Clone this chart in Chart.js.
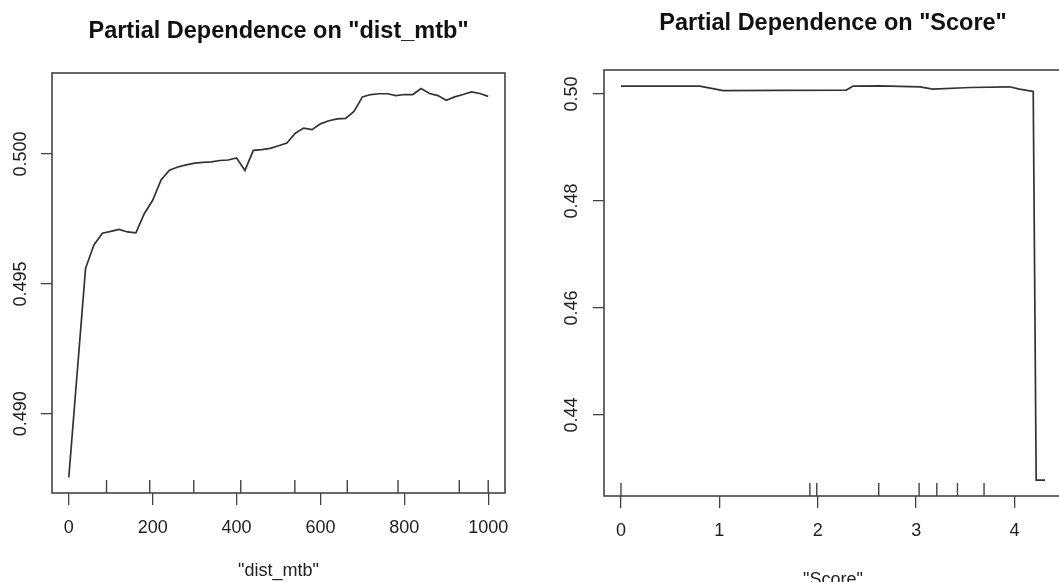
<!DOCTYPE html>
<html>
<head>
<meta charset="utf-8">
<script src="https://cdn.jsdelivr.net/npm/chart.js@4.4.1/dist/chart.umd.min.js"></script>
<style>
  html, body { margin: 0; padding: 0; background: #fff; overflow: hidden; width: 1059px; height: 582px; }
  #pdDist { position: absolute; left: 0; top: 0; }
  #pdScore { position: absolute; left: 530px; top: 0; }
</style>
</head>
<body>
<canvas id="pdDist" width="530" height="582"></canvas>
<canvas id="pdScore" width="560" height="600"></canvas>
<script>
// partial dependence on dist_mtb
const distX = [0, 40, 60, 80, 100, 120, 140, 160, 180, 200, 220, 240, 260, 280, 300, 320, 340, 360, 380, 400,
  420, 440, 460, 480, 500, 520, 540, 560, 580, 600, 620, 640, 660, 680, 700, 720, 740, 760, 780, 800,
  820, 840, 860, 880, 900, 920, 940, 960, 980, 1000];
const distPd = [0.48755, 0.49560, 0.49650, 0.49695, 0.49702, 0.49710, 0.49700, 0.49697, 0.49770, 0.49822,
  0.49900, 0.49938, 0.49950, 0.49958, 0.49965, 0.49968, 0.49970, 0.49975, 0.49977, 0.49985,
  0.49937, 0.50014, 0.50017, 0.50022, 0.50032, 0.50042, 0.50080, 0.50100, 0.50094, 0.50116,
  0.50128, 0.50135, 0.50137, 0.50164, 0.50220, 0.50229, 0.50232, 0.50232, 0.50225, 0.50229,
  0.50229, 0.50252, 0.50233, 0.50225, 0.50207, 0.50220, 0.50229, 0.50239, 0.50233, 0.50222];
const distRug = [90, 193, 298, 410, 539, 664, 785, 931, 1000];
const distXTicks = [0, 200, 400, 600, 800, 1000];
const distYTicks = [0.490, 0.495, 0.500];

// partial dependence on Score
const scoreX = [0, 0.80, 1.04, 1.60, 2.29, 2.36, 2.63, 3.04, 3.17, 3.55, 3.95, 4.05, 4.19, 4.22, 4.31];
const scorePd = [0.50150, 0.50150, 0.50065, 0.50068, 0.50075, 0.50149, 0.50155, 0.50136, 0.50093, 0.50123,
  0.50136, 0.50093, 0.50049, 0.42780, 0.42780];
const scoreRug = [0, 1.92, 1.99, 2.62, 3.03, 3.21, 3.42, 3.69];
const scoreXTicks = [0, 1, 2, 3, 4];
const scoreYTicks = [0.44, 0.46, 0.48, 0.50];

const FONT = 'Liberation Sans, Arial, Helvetica, sans-serif';
const INK = '#222';
const AXIS = '#444';

// R style: axis range = data range + 4% each side
function rRange(vals) {
  const lo = Math.min(...vals), hi = Math.max(...vals);
  const pad = (hi - lo) * 0.04;
  return { min: lo - pad, max: hi + pad };
}

const boxPlugin = {
  id: 'box',
  afterDraw(chart) {
    const { ctx, chartArea: a } = chart;
    ctx.save();
    ctx.strokeStyle = AXIS;
    ctx.lineWidth = 1.6;
    ctx.strokeRect(a.left, a.top, a.right - a.left, a.bottom - a.top);
    ctx.restore();
  }
};

const rugPlugin = {
  id: 'rug',
  afterDatasetsDraw(chart, args, opts) {
    const { ctx, chartArea: a, scales: { x } } = chart;
    ctx.save();
    ctx.strokeStyle = AXIS;
    ctx.lineWidth = 1.4;
    ctx.beginPath();
    opts.values.forEach(v => {
      const px = x.getPixelForValue(v);
      ctx.moveTo(px, a.bottom);
      ctx.lineTo(px, a.bottom - 13);
    });
    ctx.stroke();
    ctx.restore();
  }
};

const mainTitlePlugin = {
  id: 'mainTitle',
  afterDraw(chart, args, opts) {
    const { ctx, chartArea: a } = chart;
    ctx.save();
    ctx.fillStyle = '#111';
    ctx.font = 'bold 23.5px ' + FONT;
    ctx.textAlign = 'center';
    ctx.textBaseline = 'middle';
    ctx.fillText(opts.text, (a.left + a.right) / 2, opts.y);
    ctx.restore();
  }
};

function pdChart(id, p) {
  const xr = rRange(p.xs);
  const yr = rRange(p.ys);
  const tickGrid = len => ({ drawOnChartArea: false, drawTicks: true, tickLength: len, color: AXIS, lineWidth: 1.3 });
  return new Chart(document.getElementById(id), {
    type: 'line',
    data: {
      datasets: [{
        data: p.xs.map((x, i) => ({ x: x, y: p.ys[i] })),
        borderColor: '#333',
        borderWidth: 1.7,
        pointRadius: 0,
        tension: 0,
        fill: false
      }]
    },
    options: {
      responsive: false,
      animation: false,
      devicePixelRatio: 1,
      layout: { padding: p.padding },
      plugins: {
        legend: { display: false },
        tooltip: { enabled: false },
        rug: { values: p.rug },
        mainTitle: { text: p.title, y: p.titleY }
      },
      scales: {
        x: {
          type: 'linear',
          min: xr.min,
          max: xr.max,
          afterBuildTicks: s => { s.ticks = p.xTicks.map(v => ({ value: v })); },
          afterFit: s => { s.height = p.xAxisHeight; },
          grid: tickGrid(12),
          border: { display: false },
          ticks: {
            autoSkip: false, maxRotation: 0, padding: 12, color: INK,
            font: { family: FONT, size: 18 },
            callback: v => String(v)
          },
          title: {
            display: true, text: p.xTitle, color: INK,
            font: { family: FONT, size: 18 },
            padding: { top: 0, bottom: p.xTitlePad }
          }
        },
        y: {
          type: 'linear',
          min: yr.min,
          max: yr.max,
          afterBuildTicks: s => { s.ticks = p.yTicks.map(v => ({ value: v })); },
          afterFit: s => { s.width = p.yAxisWidth; },
          grid: tickGrid(11),
          border: { display: false },
          ticks: {
            autoSkip: false, minRotation: 90, maxRotation: 90, crossAlign: 'center',
            padding: p.yTickPad, color: INK,
            font: { family: FONT, size: 18 },
            callback: v => v.toFixed(p.yDigits)
          }
        }
      }
    },
    plugins: [boxPlugin, rugPlugin, mainTitlePlugin]
  });
}

pdChart('pdDist', {
  xs: distX, ys: distPd, rug: distRug, xTicks: distXTicks, yTicks: distYTicks, yDigits: 3,
  title: 'Partial Dependence on "dist_mtb"', titleY: 32,
  xTitle: '"dist_mtb"', xTitlePad: 0,
  padding: { left: 0, top: 73, right: 25, bottom: 0 },
  xAxisHeight: 89, yAxisWidth: 52, yTickPad: -3
});

pdChart('pdScore', {
  xs: scoreX, ys: scorePd, rug: scoreRug, xTicks: scoreXTicks, yTicks: scoreYTicks, yDigits: 2,
  title: 'Partial Dependence on "Score"', titleY: 24,
  xTitle: '"Score"', xTitlePad: 9,
  padding: { left: 0, top: 70, right: 28, bottom: 0 },
  xAxisHeight: 104, yAxisWidth: 74, yTickPad: 3
});
</script>
</body>
</html>
